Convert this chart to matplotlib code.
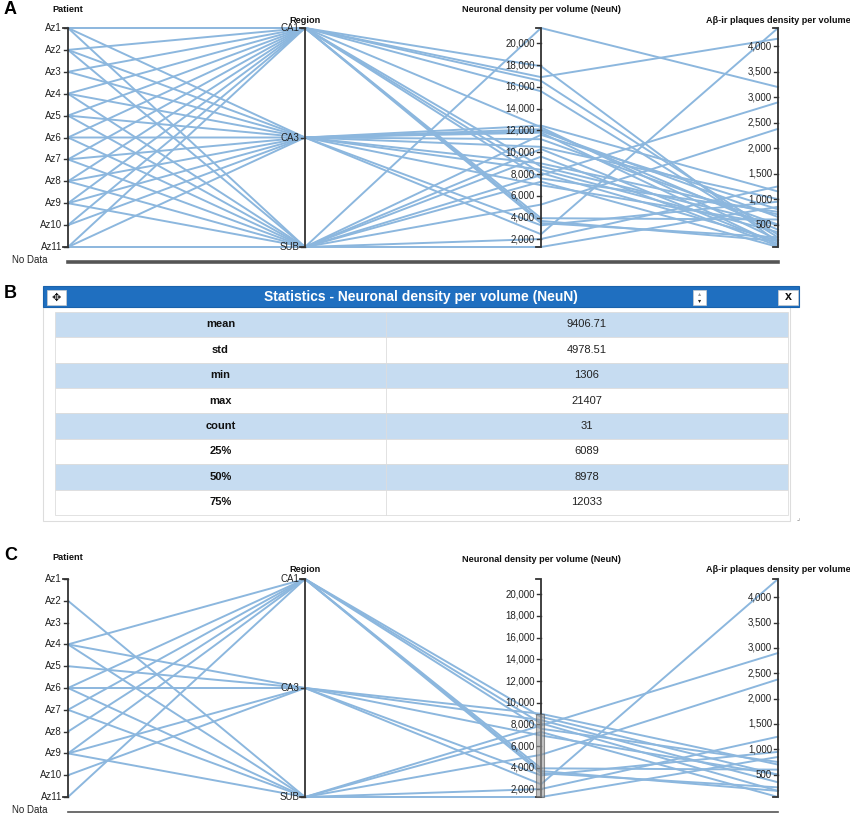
import matplotlib
matplotlib.use("Agg")
import matplotlib.pyplot as plt
from matplotlib.patches import Rectangle

plt.rcParams['font.family'] = ['Liberation Sans', 'DejaVu Sans']

# ---- data: one record per patient/region sample ----
patients = ["Az1", "Az1", "Az1", "Az2", "Az2", "Az2", "Az3", "Az3",
            "Az4", "Az4", "Az4", "Az5", "Az5", "Az5", "Az6", "Az6", "Az6",
            "Az7", "Az7", "Az7", "Az8", "Az8", "Az8", "Az9", "Az9", "Az9",
            "Az10", "Az10", "Az11", "Az11", "Az11"]
regions = ["CA1", "CA3", "SUB", "CA1", "CA3", "SUB", "CA1", "CA3",
           "CA1", "CA3", "SUB", "CA1", "CA3", "SUB", "CA1", "CA3", "SUB",
           "CA1", "CA3", "SUB", "CA1", "CA3", "SUB", "CA1", "CA3", "SUB",
           "CA1", "CA3", "CA1", "CA3", "SUB"]
neun = [17900, 12450, 21407, 16900, 12116, 2040, 15600, 11950,
        8700, 8400, 7900, 16553, 2480, 11600, 8100, 8978, 7300,
        7600, 11800, 5200, 3950, 11200, 10300, 3700, 3300, 1306,
        12300, 6978, 3500, 10500, 9600]
abeta = [150, 1150, 3200, 4150, 400, 1250, 250, 650,
         500, 350, 2900, 300, 4360, 800, 180, 700, 60,
         750, 100, 2380, 600, 500, 120, 180, 950, 850,
         200, 500, 250, 1000, 80]

patient_names = ["Az%d" % i for i in range(1, 12)]
region_names = ["CA1", "CA3", "SUB"]
neun_ticks = list(range(2000, 20001, 2000))
abeta_ticks = list(range(500, 4001, 500))
brush = (1306, 9000)  # NeuN selection shown in panel C

stat_labels = ["mean", "std", "min", "max", "count", "25%", "50%", "75%"]
stat_values = ["9406.71", "4978.51", "1306", "21407", "31", "6089", "8978", "12033"]

line_col = "#8cb7de"
axis_col = "#333333"
ax_x = [68, 305, 541, 778]
titles = ["Patient", "Region", "Neuronal density per volume (NeuN)",
          "A\u03b2-ir plaques density per volume"]

nlo, nhi = min(neun), max(neun)
alo, ahi = min(abeta), max(abeta)

fig = plt.figure(figsize=(8.5, 8.17), dpi=100)
ax = fig.add_axes([0, 0, 1, 1])
ax.set_xlim(0, 850)
ax.set_ylim(817, 0)
ax.axis("off")


def lin(v, lo, hi, top, bot):
    return bot - (v - lo) / (hi - lo) * (bot - top)


def draw_axis(x, top, bot, ticks, title, title_y):
    # d3-style axis: domain path with outer ticks, inner ticks, labels
    ax.plot([x - 5, x, x, x - 5], [top, top, bot, bot], color=axis_col, lw=1.3,
            solid_joinstyle="miter", zorder=3)
    for y, lab in ticks:
        ax.plot([x - 4, x], [y, y], color=axis_col, lw=1, zorder=3)
        ax.text(x - 6, y, lab, ha="right", va="center", fontsize=7,
                color="#222222", zorder=4)
    ax.text(x, title_y, title, ha="center", va="center", fontsize=6.6,
            fontweight="bold", color="#111111")


def draw_parallel(top, bot, mask, title_ys, nodata_y, nodata_lw):
    def ys(i):
        return [lin(patient_names.index(patients[i]), 0, 10, bot, top),
                lin(region_names.index(regions[i]), 0, 2, bot, top),
                lin(neun[i], nlo, nhi, top, bot),
                lin(abeta[i], alo, ahi, top, bot)]

    for i in range(len(neun)):
        if mask[i]:
            ax.plot(ax_x, ys(i), color=line_col, lw=1.4, zorder=2)

    draw_axis(ax_x[0], top, bot,
              [(lin(k, 0, 10, bot, top), p) for k, p in enumerate(patient_names)],
              titles[0], title_ys[0])
    draw_axis(ax_x[1], top, bot,
              [(lin(k, 0, 2, bot, top), r) for k, r in enumerate(region_names)],
              titles[1], title_ys[1])
    draw_axis(ax_x[2], top, bot,
              [(lin(t, nlo, nhi, top, bot), f"{t:,}") for t in neun_ticks],
              titles[2], title_ys[2])
    draw_axis(ax_x[3], top, bot,
              [(lin(t, alo, ahi, top, bot), f"{t:,}") for t in abeta_ticks],
              titles[3], title_ys[3])

    ax.text(12, nodata_y - 1, "No Data", ha="left", va="center", fontsize=7,
            color="#222222")
    ax.plot([ax_x[0], ax_x[3]], [nodata_y + 1, nodata_y + 1], color="#555555",
            lw=nodata_lw)


# ---- panel A ----
topA, botA = 28, 247
draw_parallel(topA, botA, [True] * len(neun), [9, 20, 9, 20], 261, 2.6)
ax.text(4, 9, "A", fontsize=13, fontweight="bold", va="center")

# ---- panel C ----
topC, botC = 579, 797
inside = [brush[0] <= v <= brush[1] for v in neun]
draw_parallel(topC, botC, inside, [557, 570, 559, 570], 811, 1.2)
b_top = lin(brush[1], nlo, nhi, topC, botC)
b_bot = lin(brush[0], nlo, nhi, topC, botC)
ax.add_patch(Rectangle((536, b_top), 8, b_bot - b_top, facecolor="#9a9a9a",
                       edgecolor="#555555", alpha=0.6, lw=0.8, zorder=5))
ax.text(4, 556, "C", fontsize=13, fontweight="bold", va="center")

# ---- panel B: statistics table ----
ax.text(4, 293, "B", fontsize=13, fontweight="bold", va="center")
ax.add_patch(Rectangle((43, 307), 747, 214, facecolor="white",
                       edgecolor="#dddddd", lw=0.8))
ax.add_patch(Rectangle((43, 286), 756, 21, facecolor="#1f6fc0",
                       edgecolor="#1a62ab", lw=0.8))
ax.text(421, 296.5, "Statistics - Neuronal density per volume (NeuN)",
        ha="center", va="center", fontsize=10, fontweight="bold", color="white")
# header buttons
ax.add_patch(Rectangle((47, 290), 19, 15, facecolor="white", edgecolor="#cccccc",
                       lw=0.5))
ax.text(56.5, 297.5, "\u2725", ha="center", va="center", fontsize=8,
        family=["DejaVu Sans"], color="#111111")
ax.add_patch(Rectangle((693, 290), 13, 15, facecolor="white", edgecolor="#cccccc",
                       lw=0.5))
ax.text(699.5, 294, "\u25b4", ha="center", va="center", fontsize=4.5,
        family=["DejaVu Sans"], color="#999999")
ax.text(699.5, 301, "\u25be", ha="center", va="center", fontsize=4.5,
        family=["DejaVu Sans"], color="#222222")
ax.add_patch(Rectangle((778, 290), 20, 15, facecolor="white", edgecolor="#cccccc",
                       lw=0.5))
ax.text(788, 297.5, "x", ha="center", va="center", fontsize=9,
        fontweight="bold", color="#111111")

row_top, row_h = 311.7, 25.4
t_left, t_right, t_split = 55, 788, 386
for k, (lab, val) in enumerate(zip(stat_labels, stat_values)):
    y0 = row_top + k * row_h
    fc = "#c6dcf1" if k % 2 == 0 else "white"
    ax.add_patch(Rectangle((t_left, y0), t_right - t_left, row_h, facecolor=fc,
                           edgecolor="#dddddd", lw=0.6))
    ax.plot([t_split, t_split], [y0, y0 + row_h], color="#dddddd", lw=0.6)
    ax.text((t_left + t_split) / 2, y0 + row_h / 2, lab, ha="center",
            va="center", fontsize=8, fontweight="bold", color="#111111")
    ax.text((t_split + t_right) / 2, y0 + row_h / 2, val, ha="center",
            va="center", fontsize=8, color="#222222")
ax.text(798, 518, "\u231f", ha="center", va="center", fontsize=5,
        family=["DejaVu Sans"], color="#888888")

fig.savefig("out.png", dpi=100)
